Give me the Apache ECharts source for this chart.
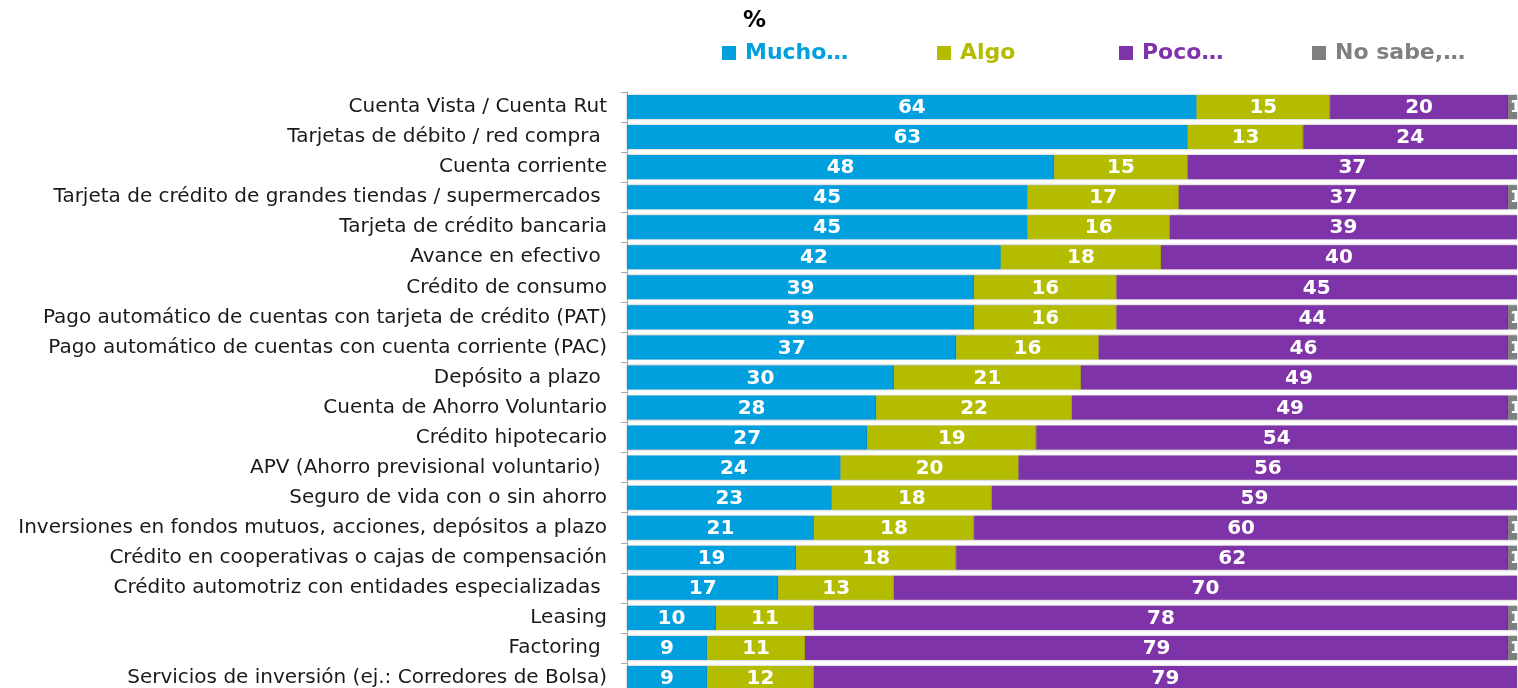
<!DOCTYPE html>
<html>
<head>
<meta charset="utf-8">
<script src="https://cdn.jsdelivr.net/npm/echarts@6/dist/echarts.min.js"></script>
<style>
html, body { margin: 0; padding: 0; background: #fff; }
#chart { width: 1518px; height: 688px; }
</style>
</head>
<body>
<div id="chart"></div>
<script>
// categories top to bottom
var categories = [
    'Cuenta Vista / Cuenta Rut',
    'Tarjetas de débito / red compra ',
    'Cuenta corriente',
    'Tarjeta de crédito de grandes tiendas / supermercados ',
    'Tarjeta de crédito bancaria',
    'Avance en efectivo ',
    'Crédito de consumo',
    'Pago automático de cuentas con tarjeta de crédito (PAT)',
    'Pago automático de cuentas con cuenta corriente (PAC)',
    'Depósito a plazo ',
    'Cuenta de Ahorro Voluntario',
    'Crédito hipotecario',
    'APV (Ahorro previsional voluntario) ',
    'Seguro de vida con o sin ahorro',
    'Inversiones en fondos mutuos, acciones, depósitos a plazo',
    'Crédito en cooperativas o cajas de compensación',
    'Crédito automotriz con entidades especializadas ',
    'Leasing',
    'Factoring ',
    'Servicios de inversión (ej.: Corredores de Bolsa)'
];
var seriesNames = ['Mucho…', 'Algo', 'Poco…', 'No sabe,…'];
var mucho  = [64, 63, 48, 45, 45, 42, 39, 39, 37, 30, 28, 27, 24, 23, 21, 19, 17, 10, 9, 9];
var algo   = [15, 13, 15, 17, 16, 18, 16, 16, 16, 21, 22, 19, 20, 18, 18, 18, 13, 11, 11, 12];
var poco   = [20, 24, 37, 37, 39, 40, 45, 44, 46, 49, 49, 54, 56, 59, 60, 62, 70, 78, 79, 79];
var nosabe = [1, 0, 0, 1, 0, 0, 0, 1, 1, 0, 1, 0, 0, 0, 1, 1, 0, 1, 1, 0];
var colors = ['#00a0df', '#b4bc00', '#7f33a8', '#7f7f7f'];

var chart = echarts.init(document.getElementById('chart'));

var font = '"DejaVu Sans", sans-serif';
var allValues = [mucho, algo, poco, nosabe];
var legendLeft = [717, 932, 1114, 1307];

var series = [];
var legends = [];
for (var i = 0; i < 4; i++) {
    series.push({
        name: seriesNames[i],
        type: 'bar',
        stack: 'total',
        barCategoryGap: '20%',
        data: allValues[i],
        itemStyle: {
            color: colors[i],
            shadowColor: 'rgba(0,0,0,0.35)',
            shadowBlur: 2
        },
        label: {
            show: true,
            position: 'inside',
            color: '#fff',
            fontFamily: font,
            fontWeight: 'bold',
            fontSize: i == 3 ? 16 : 20,
            offset: i == 3 ? [3, 1] : [0, 1],
            formatter: function (p) { return p.value ? p.value : ''; }
        }
    });
    legends.push({
        left: legendLeft[i],
        top: 37,
        icon: 'rect',
        itemWidth: 14,
        itemHeight: 14,
        itemGap: 0,
        selectedMode: false,
        data: [seriesNames[i]],
        textStyle: {
            color: colors[i],
            fontFamily: font,
            fontWeight: 'bold',
            fontSize: 22,
            padding: [0, 0, 0, 4]
        }
    });
}

var option = {
    animation: false,
    title: {
        text: '%',
        left: 738,
        top: 5,
        textStyle: { fontFamily: font, fontWeight: 'bold', fontSize: 23, color: '#000' }
    },
    legend: legends,
    grid: {
        left: 627, right: 1, top: 92, height: 601,
        containLabel: false,
        outerBoundsMode: 'none'
    },
    xAxis: { type: 'value', min: 0, max: 100, show: false },
    yAxis: {
        type: 'category',
        inverse: true,
        data: categories,
        axisLine: { show: true, lineStyle: { color: '#a6a6a6', width: 1 } },
        axisTick: { show: true, length: 6, lineStyle: { color: '#a6a6a6' } },
        axisLabel: { color: '#1a1a1a', fontFamily: font, fontSize: 20, margin: 20 }
    },
    series: series
};
chart.setOption(option);
</script>
</body>
</html>
